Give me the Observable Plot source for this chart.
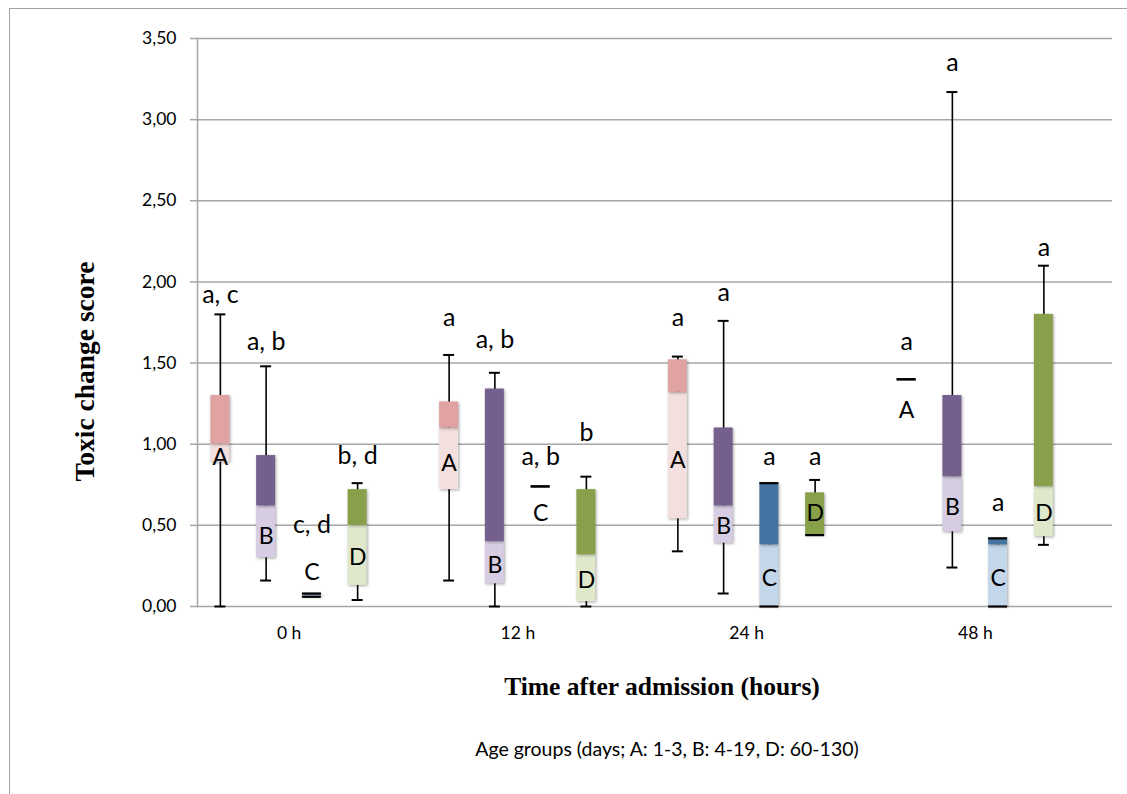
<!DOCTYPE html>
<html>
<head>
<meta charset="utf-8">
<script src="https://cdn.jsdelivr.net/npm/d3@7"></script>
<script src="https://cdn.jsdelivr.net/npm/@observablehq/plot@0.6"></script>
<style>
  html, body { margin: 0; padding: 0; background: white; }
  #wrap { position: relative; width: 1127px; height: 794px; overflow: hidden; }
  #border { position: absolute; left: 9px; top: 8px; right: -5px; bottom: -5px;
            border-top: 1.5px solid #A3A3A3; border-left: 1.5px solid #A3A3A3; pointer-events: none; }
</style>
</head>
<body>
<div id="wrap"><div id="chart"></div><div id="border"></div></div>
<script>
// Categories
const times = ["0 h", "12 h", "24 h", "48 h"];
const groups = ["A", "B", "C", "D"];
const yTicks = [0, 0.5, 1.0, 1.5, 2.0, 2.5, 3.0, 3.5];

// Box statistics, ordered by time; within each time: A, B, C, D
const whiskerMin = [
  0.00, 0.16, 0.06, 0.04,   // 0 h
  0.16, 0.00, 0.74, 0.00,   // 12 h
  0.34, 0.08, 0.00, 0.44,   // 24 h
  1.40, 0.24, 0.00, 0.38    // 48 h
];
const quart1 = [
  0.89, 0.30, 0.06, 0.13,
  0.72, 0.14, 0.74, 0.03,
  0.54, 0.39, 0.00, 0.44,
  1.40, 0.46, 0.00, 0.43
];
const median = [
  1.00, 0.62, 0.07, 0.50,
  1.10, 0.40, 0.74, 0.32,
  1.32, 0.62, 0.38, 0.44,
  1.40, 0.80, 0.38, 0.74
];
const quart3 = [
  1.30, 0.93, 0.08, 0.72,
  1.26, 1.34, 0.74, 0.72,
  1.52, 1.10, 0.76, 0.70,
  1.40, 1.30, 0.42, 1.80
];
const whiskerMax = [
  1.80, 1.48, 0.08, 0.76,
  1.55, 1.44, 0.74, 0.80,
  1.54, 1.76, 0.76, 0.78,
  1.40, 3.17, 0.42, 2.10
];
// Group letter positions (value units) inside boxes
const letterY = [
  0.92, 0.43, 0.21, 0.30,
  0.88, 0.25, 0.57, 0.16,
  0.90, 0.49, 0.17, 0.57,
  1.21, 0.61, 0.17, 0.57
];
// Significance letters and their heights
const sigText = [
  "a, c", "a, b", "c, d", "b, d",
  "a", "a, b", "a, b", "b",
  "a", "a", "a", "a",
  "a", "a", "a", "a"
];
const sigY = [
  1.92, 1.63, 0.50, 0.93,
  1.78, 1.64, 0.92, 1.07,
  1.78, 1.93, 0.92, 0.92,
  1.63, 3.35, 0.64, 2.21
];

// Styles
const darkColors = ["#E0A3A1", "#755F8C", "#4472A1", "#88A04A"];
const lightColors = ["#F3E0DE", "#D6CDE2", "#C3D6EA", "#DFE8CA"];

const boxes = [];
times.forEach((t, ti) => groups.forEach((g, gi) => {
  const i = ti * 4 + gi;
  boxes.push({
    key: t + "|" + g, time: t, group: g,
    min: whiskerMin[i], q1: quart1[i], med: median[i], q3: quart3[i], max: whiskerMax[i],
    ly: letterY[i], sig: sigText[i], sy: sigY[i],
    dark: darkColors[gi], light: lightColors[gi]
  });
}));

const xDomain = times.flatMap(t => [...groups, "_"].map(g => t + "|" + g));
const bKeys = times.map(t => t + "|B");
const fmt = d => d.toFixed(2).replace(".", ",");

const boxInset = 13.4;
const capInset = 17.4;

const chart = Plot.plot({
  width: 1127,
  height: 794,
  marginLeft: 197,
  marginRight: 15,
  marginTop: 38,
  marginBottom: 188,
  style: {fontFamily: "Lato, sans-serif", fontSize: "17.5px", background: "white", color: "black", overflow: "visible"},
  x: {domain: xDomain, padding: 0, round: false, axis: null},
  y: {domain: [0, 3.5], axis: null},
  color: {type: "identity"},
  marks: [
    Plot.gridY(yTicks, {stroke: "#A6A6A6", strokeOpacity: 1, strokeWidth: 1.5}),
    Plot.frame({anchor: "left", stroke: "#A6A6A6", strokeWidth: 1.5}),
    Plot.axisY(yTicks, {tickSize: 7, tickPadding: 14, stroke: "#A6A6A6", strokeWidth: 1.5, fill: "black", tickFormat: fmt, label: null}),
    Plot.axisX(bKeys, {tickSize: 0, tickPadding: 20, dx: 23, tickFormat: k => k.split("|")[0], label: null, fill: "black"}),
    // whiskers
    Plot.ruleX(boxes, {x: "key", y1: "min", y2: "max", stroke: "black", strokeWidth: 1.6}),
    // boxes: lower (Q1-median) light, upper (median-Q3) dark
    Plot.barY(boxes, {x: "key", y1: "q1", y2: "med", fill: "light", insetLeft: boxInset, insetRight: boxInset}),
    Plot.barY(boxes, {x: "key", y1: "med", y2: "q3", fill: "dark", insetLeft: boxInset, insetRight: boxInset}),
    // whisker caps
    Plot.tickY(boxes.filter(d => d.max > d.q3), {x: "key", y: "max", stroke: "black", strokeWidth: 2, insetLeft: capInset, insetRight: capInset}),
    Plot.tickY(boxes.filter(d => d.min < d.q1), {x: "key", y: "min", stroke: "black", strokeWidth: 2, insetLeft: capInset, insetRight: capInset}),
    // zero-length whiskers drawn across the box
    Plot.tickY(boxes.filter(d => d.max <= d.q3), {x: "key", y: "max", stroke: "black", strokeWidth: 2.2, insetLeft: boxInset, insetRight: boxInset}),
    Plot.tickY(boxes.filter(d => d.min >= d.q1), {x: "key", y: "min", stroke: "black", strokeWidth: 2.2, insetLeft: boxInset, insetRight: boxInset}),
    // group letters
    Plot.text(boxes, {x: "key", y: "ly", text: "group", fontSize: 23, fill: "black"}),
    // significance letters
    Plot.text(boxes, {x: "key", y: "sy", text: "sig", fontSize: 25, fill: "black"}),
    // axis titles and caption
    Plot.text(["Toxic change score"], {frameAnchor: "left", textAnchor: "middle", lineAnchor: "middle", rotate: -90, dx: -112, dy: 49, fontFamily: "Liberation Serif, serif", fontWeight: "bold", fontSize: 27.5, fill: "black"}),
    Plot.text(["Time after admission (hours)"], {frameAnchor: "bottom", textAnchor: "middle", lineAnchor: "middle", dx: 7, dy: 80, fontFamily: "Liberation Serif, serif", fontWeight: "bold", fontSize: 25.5, fill: "black"}),
    Plot.text(["Age groups (days; A: 1-3, B: 4-19, D: 60-130)"], {frameAnchor: "bottom", textAnchor: "middle", lineAnchor: "middle", dx: 12, dy: 143, fontSize: 19.5, fill: "black"})
  ]
});

d3.select(chart).selectAll('g[aria-label="bar"]').style("filter", "drop-shadow(1.5px 1.5px 1.5px rgba(0,0,0,0.35))");
document.getElementById("chart").appendChild(chart);
</script>
</body>
</html>
